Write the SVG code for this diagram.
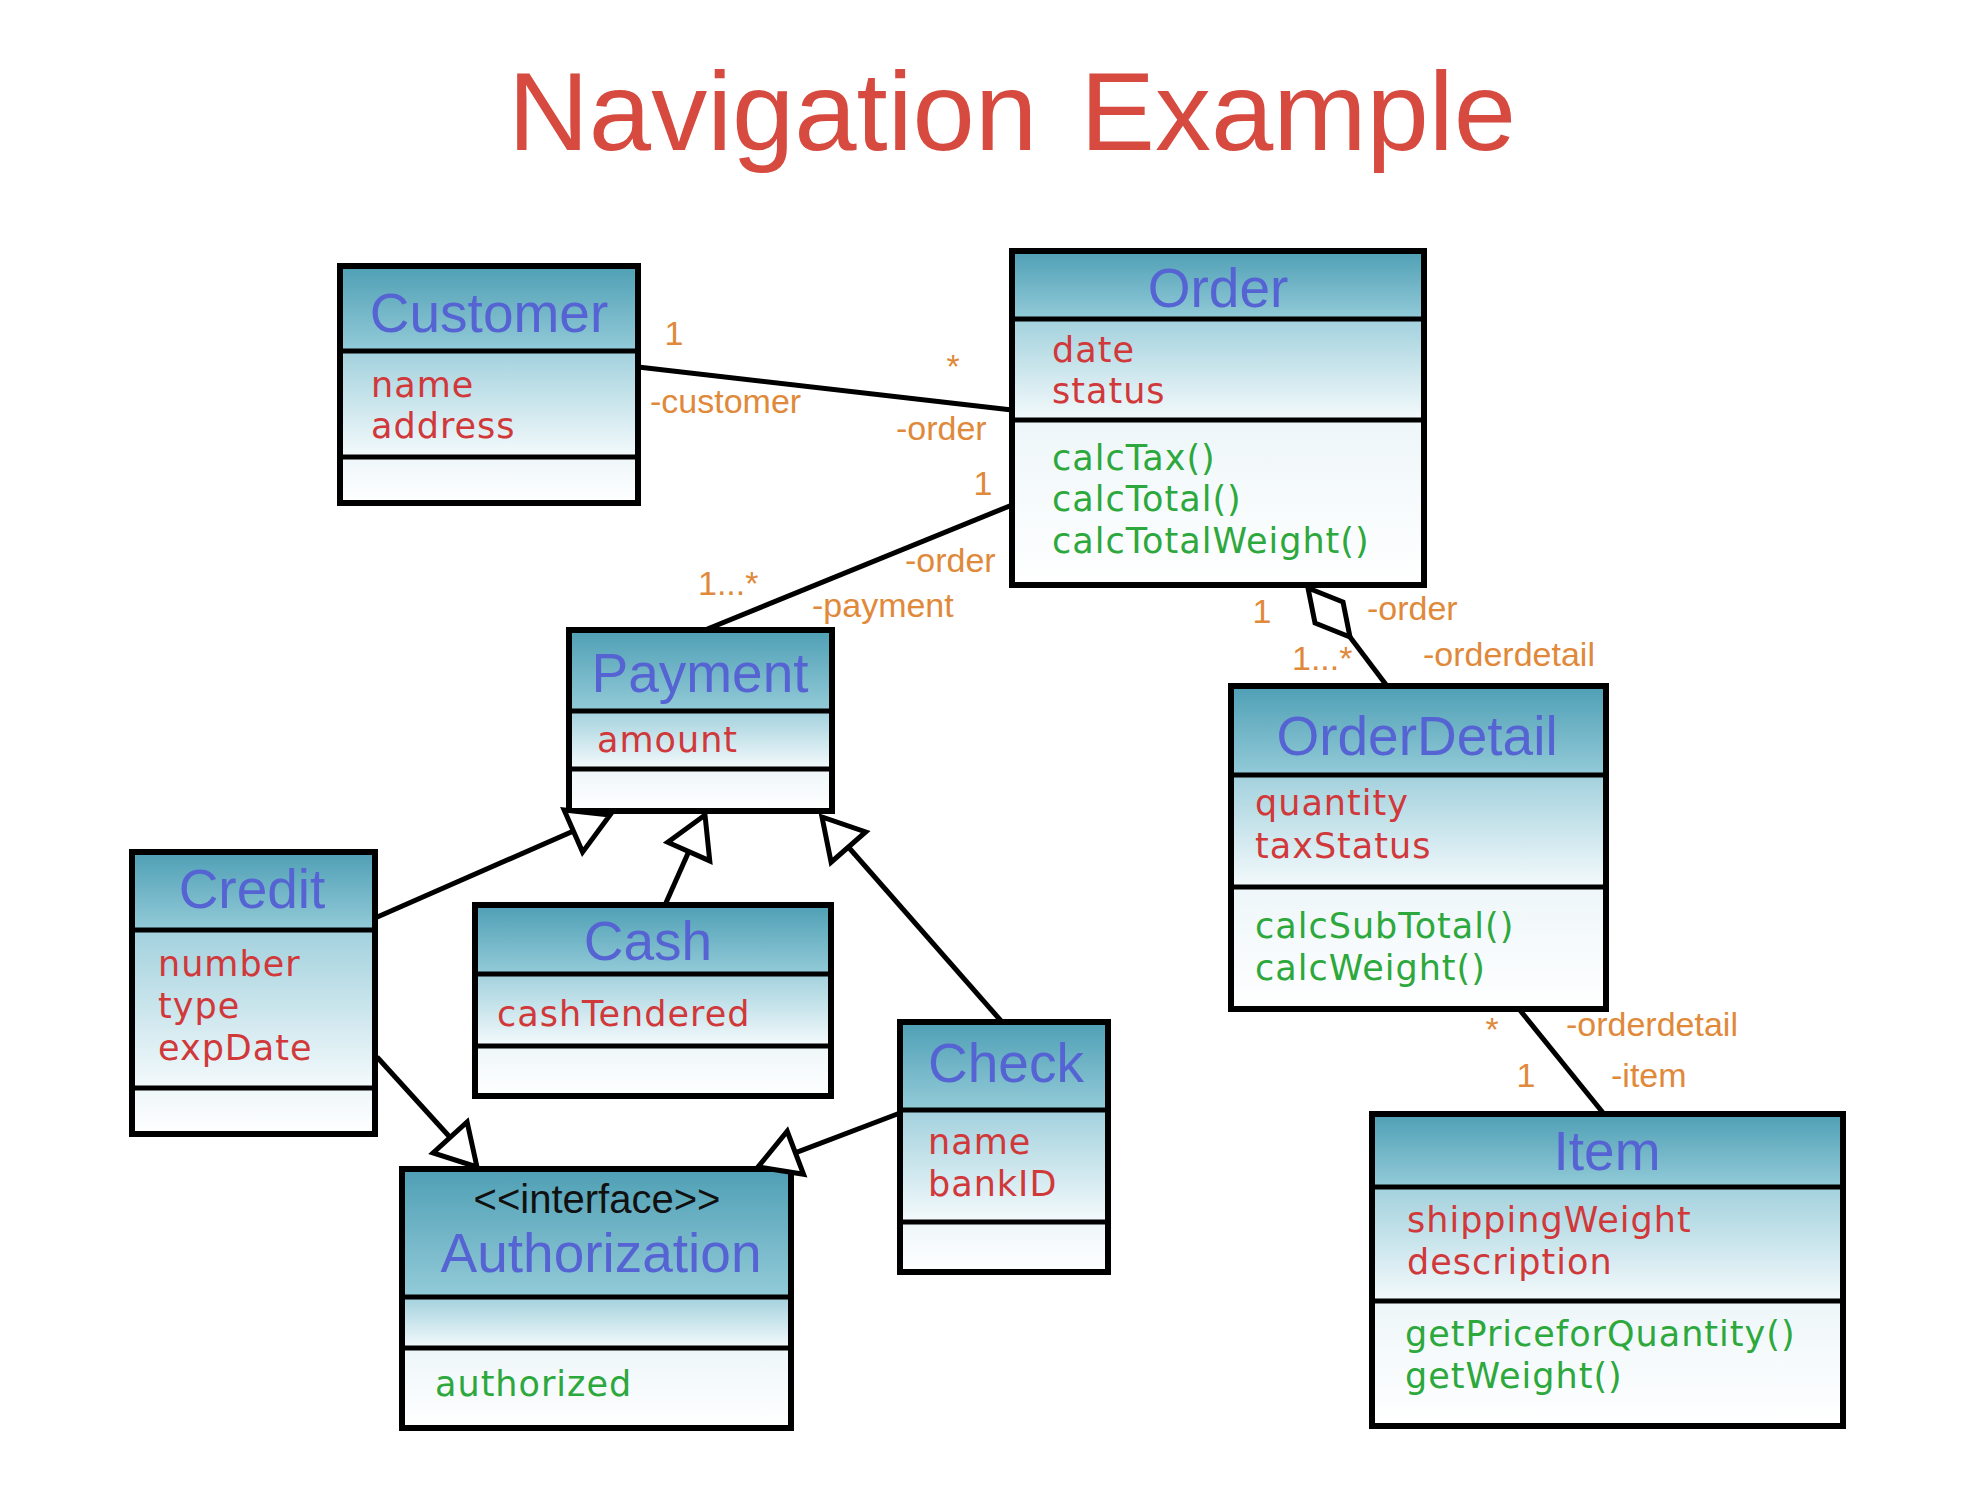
<svg xmlns="http://www.w3.org/2000/svg" width="1972" height="1504" viewBox="0 0 1972 1504">
<defs>
<linearGradient id="gHead" x1="0" y1="0" x2="0" y2="1"><stop offset="0" stop-color="#4f9fb5"/><stop offset="1" stop-color="#93cbd8"/></linearGradient>
<linearGradient id="gAttr" x1="0" y1="0" x2="0" y2="1"><stop offset="0" stop-color="#a2d1dd"/><stop offset="1" stop-color="#f4fafc"/></linearGradient>
<linearGradient id="gOps" x1="0" y1="0" x2="0" y2="1"><stop offset="0" stop-color="#eef6f9"/><stop offset="1" stop-color="#ffffff"/></linearGradient>
<marker id="gen" markerUnits="userSpaceOnUse" markerWidth="60" markerHeight="60" viewBox="0 0 60 60" refX="46" refY="30" orient="auto" overflow="visible">
<path d="M6,7 L46,30 L6,53 Z" fill="#fff" stroke="#000" stroke-width="5" stroke-linejoin="miter"/>
</marker>
<style>
.box{fill:none;stroke:#000;stroke-width:6}
.sep{stroke:#000;stroke-width:5}
.ln{stroke:#000;stroke-width:5;fill:none}
.hd{fill:url(#gHead)}
.ar{fill:url(#gAttr)}
.op{fill:url(#gOps)}
text{font-family:"Liberation Sans",Arial,sans-serif}
.cn{font-size:55px;fill:#5563d3;text-anchor:middle}
.at{font-family:"DejaVu Sans",sans-serif;font-size:35px;letter-spacing:1px;fill:#d0383a}
.mt{font-family:"DejaVu Sans",sans-serif;font-size:35px;letter-spacing:1px;fill:#2ca83c}
.lb{font-size:34px;fill:#e0893a}
.st{font-size:40px;fill:#111;text-anchor:middle}
.title{font-size:112px;fill:#d64a40;text-anchor:middle;word-spacing:12px}
</style>
</defs>
<rect width="1972" height="1504" fill="#fff"/>
<text class="title" x="1012" y="150">Navigation Example</text>

<g id="customer">
<rect class="hd" x="340" y="266" width="298" height="85"/>
<rect class="ar" x="340" y="351" width="298" height="106"/>
<rect class="op" x="340" y="457" width="298" height="46"/>
<line class="sep" x1="340" y1="351" x2="638" y2="351"/>
<line class="sep" x1="340" y1="457" x2="638" y2="457"/>
<rect class="box" x="340" y="266" width="298" height="237"/>
<text class="cn" x="489" y="332">Customer</text>
<text class="at" x="371" y="397">name</text>
<text class="at" x="371" y="438">address</text>
</g>

<g id="order">
<rect class="hd" x="1012" y="251" width="412" height="68"/>
<rect class="ar" x="1012" y="319" width="412" height="101"/>
<rect class="op" x="1012" y="420" width="412" height="165"/>
<line class="sep" x1="1012" y1="319" x2="1424" y2="319"/>
<line class="sep" x1="1012" y1="420" x2="1424" y2="420"/>
<rect class="box" x="1012" y="251" width="412" height="334"/>
<text class="cn" x="1218" y="307">Order</text>
<text class="at" x="1052" y="362">date</text>
<text class="at" x="1052" y="403">status</text>
<text class="mt" x="1052" y="470">calcTax()</text>
<text class="mt" x="1052" y="511">calcTotal()</text>
<text class="mt" x="1052" y="553">calcTotalWeight()</text>
</g>

<g id="payment">
<rect class="hd" x="569" y="630" width="263" height="81"/>
<rect class="ar" x="569" y="711" width="263" height="58"/>
<rect class="op" x="569" y="769" width="263" height="42"/>
<line class="sep" x1="569" y1="711" x2="832" y2="711"/>
<line class="sep" x1="569" y1="769" x2="832" y2="769"/>
<rect class="box" x="569" y="630" width="263" height="181"/>
<text class="cn" x="700" y="692">Payment</text>
<text class="at" x="597" y="752">amount</text>
</g>

<g id="orderdetail">
<rect class="hd" x="1231" y="686" width="375" height="89"/>
<rect class="ar" x="1231" y="775" width="375" height="112"/>
<rect class="op" x="1231" y="887" width="375" height="122"/>
<line class="sep" x1="1231" y1="775" x2="1606" y2="775"/>
<line class="sep" x1="1231" y1="887" x2="1606" y2="887"/>
<rect class="box" x="1231" y="686" width="375" height="323"/>
<text class="cn" x="1417" y="755">OrderDetail</text>
<text class="at" x="1255" y="815">quantity</text>
<text class="at" x="1255" y="858">taxStatus</text>
<text class="mt" x="1255" y="938">calcSubTotal()</text>
<text class="mt" x="1255" y="980">calcWeight()</text>
</g>

<g id="item">
<rect class="hd" x="1372" y="1114" width="471" height="73"/>
<rect class="ar" x="1372" y="1187" width="471" height="114"/>
<rect class="op" x="1372" y="1301" width="471" height="125"/>
<line class="sep" x1="1372" y1="1187" x2="1843" y2="1187"/>
<line class="sep" x1="1372" y1="1301" x2="1843" y2="1301"/>
<rect class="box" x="1372" y="1114" width="471" height="312"/>
<text class="cn" x="1607" y="1170">Item</text>
<text class="at" x="1407" y="1232">shippingWeight</text>
<text class="at" x="1407" y="1274">description</text>
<text class="mt" x="1405" y="1346">getPriceforQuantity()</text>
<text class="mt" x="1405" y="1388">getWeight()</text>
</g>

<g id="credit">
<rect class="hd" x="132" y="852" width="243" height="78"/>
<rect class="ar" x="132" y="930" width="243" height="158"/>
<rect class="op" x="132" y="1088" width="243" height="46"/>
<line class="sep" x1="132" y1="930" x2="375" y2="930"/>
<line class="sep" x1="132" y1="1088" x2="375" y2="1088"/>
<rect class="box" x="132" y="852" width="243" height="282"/>
<text class="cn" x="252" y="908">Credit</text>
<text class="at" x="158" y="976">number</text>
<text class="at" x="158" y="1018">type</text>
<text class="at" x="158" y="1060">expDate</text>
</g>

<g id="cash">
<rect class="hd" x="475" y="905" width="356" height="69"/>
<rect class="ar" x="475" y="974" width="356" height="72"/>
<rect class="op" x="475" y="1046" width="356" height="50"/>
<line class="sep" x1="475" y1="974" x2="831" y2="974"/>
<line class="sep" x1="475" y1="1046" x2="831" y2="1046"/>
<rect class="box" x="475" y="905" width="356" height="191"/>
<text class="cn" x="648" y="960">Cash</text>
<text class="at" x="497" y="1026">cashTendered</text>
</g>

<g id="check">
<rect class="hd" x="900" y="1022" width="208" height="88"/>
<rect class="ar" x="900" y="1110" width="208" height="112"/>
<rect class="op" x="900" y="1222" width="208" height="50"/>
<line class="sep" x1="900" y1="1110" x2="1108" y2="1110"/>
<line class="sep" x1="900" y1="1222" x2="1108" y2="1222"/>
<rect class="box" x="900" y="1022" width="208" height="250"/>
<text class="cn" x="1006" y="1082">Check</text>
<text class="at" x="928" y="1154">name</text>
<text class="at" x="928" y="1196">bankID</text>
</g>

<g id="authorization">
<rect class="hd" x="402" y="1169" width="389" height="128"/>
<rect class="ar" x="402" y="1297" width="389" height="51"/>
<rect class="op" x="402" y="1348" width="389" height="80"/>
<line class="sep" x1="402" y1="1297" x2="791" y2="1297"/>
<line class="sep" x1="402" y1="1348" x2="791" y2="1348"/>
<rect class="box" x="402" y="1169" width="389" height="259"/>
<text class="st" x="597" y="1213">&lt;&lt;interface&gt;&gt;</text>
<text class="cn" x="601" y="1272">Authorization</text>
<text class="mt" x="435" y="1396">authorized</text>
</g>

<g id="connectors">
<line class="ln" x1="638" y1="367" x2="1012" y2="410"/>
<line class="ln" x1="1012" y1="505" x2="705" y2="630"/>
<polygon points="1308,588 1343,602 1350,637 1315,623" fill="#fff" stroke="#000" stroke-width="5"/>
<line class="ln" x1="1350" y1="637" x2="1387" y2="686"/>
<line class="ln" x1="1519" y1="1009" x2="1604" y2="1114"/>
<line class="ln" x1="375" y1="918" x2="610" y2="815" marker-end="url(#gen)"/>
<line class="ln" x1="665" y1="905" x2="705" y2="815" marker-end="url(#gen)"/>
<line class="ln" x1="1002" y1="1022" x2="822" y2="817" marker-end="url(#gen)"/>
<line class="ln" x1="377" y1="1057" x2="477" y2="1167" marker-end="url(#gen)"/>
<line class="ln" x1="900" y1="1113" x2="758" y2="1167" marker-end="url(#gen)"/>
</g>

<g id="labels">
<text class="lb" x="674" y="345" text-anchor="middle">1</text>
<text class="lb" x="953" y="378" text-anchor="middle">*</text>
<text class="lb" x="650" y="413">-customer</text>
<text class="lb" x="896" y="440">-order</text>
<text class="lb" x="983" y="495" text-anchor="middle">1</text>
<text class="lb" x="905" y="572">-order</text>
<text class="lb" x="812" y="617">-payment</text>
<text class="lb" x="698" y="595">1...*</text>
<text class="lb" x="1262" y="623" text-anchor="middle">1</text>
<text class="lb" x="1367" y="620">-order</text>
<text class="lb" x="1292" y="670">1...*</text>
<text class="lb" x="1423" y="666">-orderdetail</text>
<text class="lb" x="1492" y="1041" text-anchor="middle">*</text>
<text class="lb" x="1566" y="1036">-orderdetail</text>
<text class="lb" x="1526" y="1087" text-anchor="middle">1</text>
<text class="lb" x="1611" y="1087">-item</text>
</g>
</svg>
